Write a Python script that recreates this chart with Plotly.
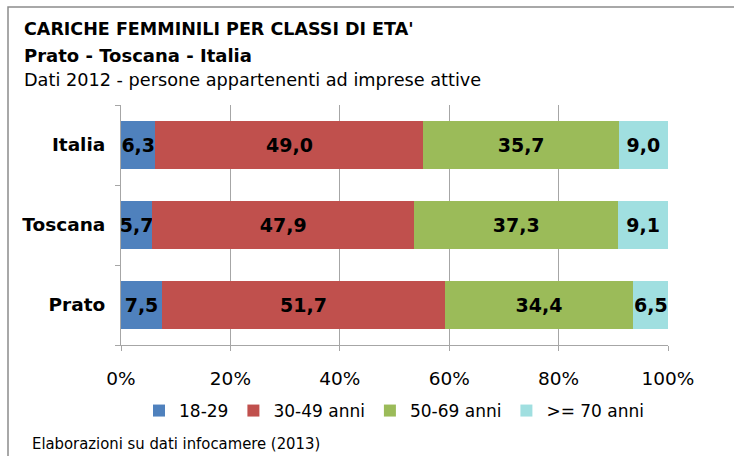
import plotly.graph_objects as go

categories = ["Prato", "Toscana", "Italia"]
series_names = ["18-29", "30-49 anni", "50-69 anni", ">= 70 anni"]
v_18_29 = [7.5, 5.7, 6.3]
v_30_49 = [51.7, 47.9, 49.0]
v_50_69 = [34.4, 37.3, 35.7]
v_70 = [6.5, 9.1, 9.0]
x_ticks = [0, 20, 40, 60, 80, 100]
x_tick_labels = ["0%", "20%", "40%", "60%", "80%", "100%"]

colors = ["#4F81BD", "#C0504D", "#9BBB59", "#A0DFE0"]
FONT = "DejaVu Sans, sans-serif"
FONT_C = "DejaVu Sans Condensed, DejaVu Sans, sans-serif"

fig = go.Figure()
for name, vals, col in zip(series_names, [v_18_29, v_30_49, v_50_69, v_70], colors):
    fig.add_trace(go.Bar(
        y=categories, x=vals, name=name, orientation="h",
        marker=dict(color=col, line=dict(width=0)),
        text=[f"{v:.1f}".replace(".", ",") for v in vals],
        textposition="inside", insidetextanchor="middle", textangle=0,
        textfont=dict(family=FONT, size=19, color="black", weight="bold"),
        width=0.6,
    ))

fig.update_layout(
    barmode="stack",
    width=734, height=456,
    margin=dict(l=121, r=66, t=105, b=111),
    paper_bgcolor="white", plot_bgcolor="white",
    font=dict(family=FONT, color="black"),
    uniformtext=dict(minsize=19, mode="show"),
    showlegend=True,
    legend=dict(orientation="h", x=0.5, xanchor="center", y=-0.275, yanchor="middle",
                font=dict(size=17, family=FONT), traceorder="normal",
                itemwidth=30, tracegroupgap=0),
)
fig.update_xaxes(
    range=[0, 100], tickvals=x_ticks, ticktext=x_tick_labels,
    showgrid=True, gridcolor="#A6A6A6", gridwidth=1,
    showline=True, linecolor="#A6A6A6", linewidth=1,
    ticks="outside", ticklen=5, tickcolor="#A6A6A6",
    tickfont=dict(size=18.5, family=FONT), ticklabelstandoff=12,
    zeroline=False, fixedrange=True,
)
fig.update_yaxes(
    categoryorder="array", categoryarray=categories,
    showline=True, linecolor="#A6A6A6", linewidth=1,
    ticks="outside", ticklen=5, tickcolor="#A6A6A6", tickson="boundaries",
    tickfont=dict(size=18.5, family=FONT, weight="bold"), ticklabelstandoff=11,
    showgrid=False, fixedrange=True,
)

# chart frame
fig.add_shape(type="rect", xref="paper", yref="paper",
              x0=(8 - 121) / 547, x1=1.3, y0=-0.6, y1=(345 - 7) / 240,
              line=dict(color="#8C8C8C", width=1.5), fillcolor="rgba(0,0,0,0)", layer="below")

def add_text(txt, ypix, size, bold):
    fig.add_annotation(text=txt, xref="paper", yref="paper",
                       x=(22 - 121) / 547, y=(345 - ypix) / 240,
                       xanchor="left", yanchor="middle", showarrow=False,
                       font=dict(size=size, family=FONT, color="black",
                                 weight="bold" if bold else "normal"))

add_text("CARICHE FEMMINILI PER CLASSI DI ETA'", 29, 17.5, True)
add_text("Prato - Toscana - Italia", 55, 18, True)
add_text("Dati 2012 - persone appartenenti ad imprese attive", 80, 17.7, False)

fig.add_annotation(text="Elaborazioni su dati infocamere (2013)", xref="paper", yref="paper",
                   x=(30 - 121) / 547, y=(345 - 443) / 240, xanchor="left", yanchor="middle",
                   showarrow=False, font=dict(size=16.5, family=FONT_C, color="black"))

fig.write_html("out.html", config={"displayModeBar": False},
               post_script="document.body.style.margin='0';")
